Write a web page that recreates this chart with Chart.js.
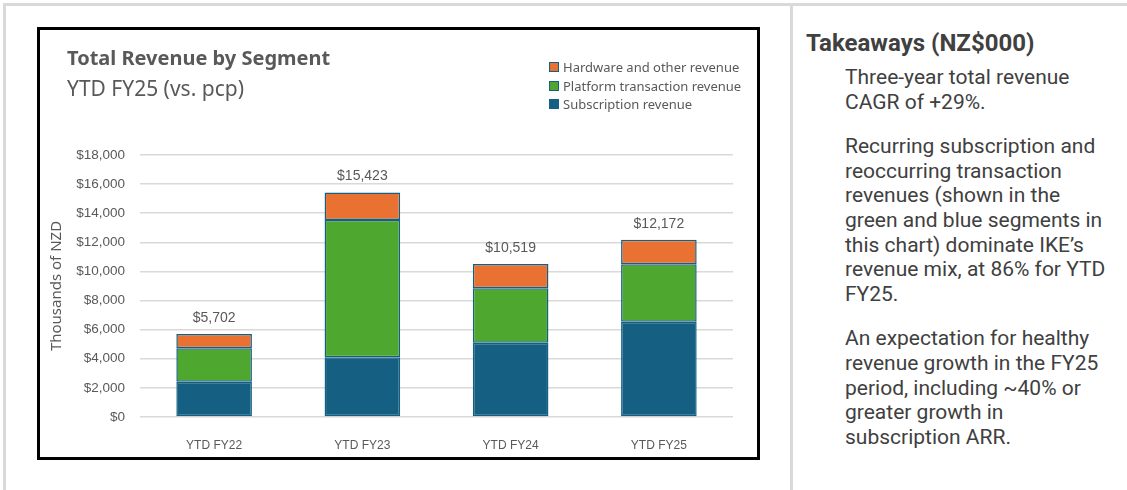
<!DOCTYPE html>
<html>
<head>
<meta charset="utf-8">
<script src="https://cdn.jsdelivr.net/npm/chart.js@4.4.1/dist/chart.umd.min.js"></script>
<style>
  html, body { margin: 0; padding: 0; background: #fff; }
  body { width: 1127px; height: 490px; position: relative; overflow: hidden; }
  .frame-top { position: absolute; left: 3px; top: 3px; width: 1124px; height: 3px; background: #d9d9d9; }
  .frame-left { position: absolute; left: 3px; top: 3px; width: 3px; height: 487px; background: #d9d9d9; }
  .frame-mid { position: absolute; left: 790px; top: 3px; width: 3px; height: 487px; background: #d9d9d9; }
  .chart-box { position: absolute; left: 37px; top: 27px; width: 717px; height: 427px; border: 3px solid #000; }
  .chart-box canvas { position: absolute; left: 0; top: 0; }
  .chart-title { position: absolute; left: 27px; top: 14px; font: bold 20px "Noto Sans", sans-serif; color: #595959; white-space: nowrap; }
  .chart-subtitle { position: absolute; left: 27px; top: 44px; font: 21px "Noto Sans", sans-serif; color: #595959; white-space: nowrap; }
  .legend { position: absolute; left: 509px; top: 28px; font: 13px "Noto Sans", sans-serif; color: #595959; }
  .legend div { height: 18.5px; line-height: 18.5px; white-space: nowrap; }
  .legend span { display: inline-block; width: 8px; height: 8px; margin-right: 4px; border: 1px solid #156082; }
  .side { position: absolute; left: 806px; top: 28px; width: 315px; font-family: Roboto, sans-serif; color: #404040; }
  .side h3 { margin: 0 0 7px 0; font-size: 24px; font-weight: bold; line-height: 30px; white-space: nowrap; }
  .side p { margin: 0 0 20px 39px; font-size: 21px; line-height: 24.6px; white-space: nowrap; }
</style>
</head>
<body>
<div class="frame-top"></div>
<div class="frame-left"></div>
<div class="frame-mid"></div>

<div class="chart-box">
  <canvas id="revenueChart" width="717" height="427"></canvas>
  <div class="chart-title">Total Revenue by Segment</div>
  <div class="chart-subtitle">YTD FY25 (vs. pcp)</div>
  <div class="legend" id="legend"></div>
</div>

<div class="side">
  <h3>Takeaways (NZ$000)</h3>
  <p>Three-year total revenue<br>CAGR of +29%.</p>
  <p>Recurring subscription and<br>reoccurring transaction<br>revenues (shown in the<br>green and blue segments in<br>this chart) dominate IKE’s<br>revenue mix, at 86% for YTD<br>FY25.</p>
  <p>An expectation for healthy<br>revenue growth in the FY25<br>period, including ~40% or<br>greater growth in<br>subscription ARR.</p>
</div>

<script>
const periods = ['YTD FY22', 'YTD FY23', 'YTD FY24', 'YTD FY25'];
const subscription = [2425, 4100, 5100, 6550];
const platform = [2295, 9434, 3740, 3940];
const hardware = [982, 1889, 1679, 1682];
const totals = [5702, 15423, 10519, 12172];
const yTicks = [0, 2000, 4000, 6000, 8000, 10000, 12000, 14000, 16000, 18000];

const seriesNames = ['Subscription revenue', 'Platform transaction revenue', 'Hardware and other revenue'];
const seriesColors = ['#156082', '#4ea72e', '#e97132'];
const textColor = '#595959';

function money(v) {
    return '$' + v.toLocaleString('en-US');
}

// totals written above each stack
const totalLabels = {
    id: 'totalLabels',
    afterDatasetsDraw(chart) {
        const ctx = chart.ctx;
        const meta = chart.getDatasetMeta(chart.data.datasets.length - 1);
        ctx.save();
        ctx.font = '14px "Liberation Sans", Arial, sans-serif';
        ctx.fillStyle = textColor;
        ctx.textAlign = 'center';
        ctx.textBaseline = 'bottom';
        meta.data.forEach((bar, i) => {
            const y = chart.scales.y.getPixelForValue(totals[i]);
            ctx.fillText(money(totals[i]), bar.x, y - 9);
        });
        ctx.restore();
    }
};

const datasets = [subscription, platform, hardware].map((values, i) => ({
    label: seriesNames[i],
    data: values,
    backgroundColor: seriesColors[i],
    borderColor: '#156082',
    borderWidth: 1.5,
    borderSkipped: false,
    categoryPercentage: 1,
    barPercentage: 0.51
}));

const ctx = document.getElementById('revenueChart').getContext('2d');
const revenueChart = new Chart(ctx, {
    type: 'bar',
    data: { labels: periods, datasets: datasets },
    options: {
        responsive: false,
        animation: false,
        layout: { padding: { top: 125, right: 24, left: 0, bottom: 0 } },
        plugins: {
            legend: { display: false },
            tooltip: { enabled: false }
        },
        scales: {
            x: {
                stacked: true,
                grid: { display: false },
                border: { display: false },
                ticks: {
                    color: textColor,
                    padding: 13,
                    font: { family: '"Liberation Sans", Arial, sans-serif', size: 12 }
                },
                afterFit(scale) { scale.height = 40; }
            },
            y: {
                stacked: true,
                min: 0,
                max: 18000,
                afterBuildTicks(scale) {
                    scale.ticks = yTicks.map(v => ({ value: v }));
                },
                grid: { color: '#d9d9d9', lineWidth: 1.5, drawTicks: false },
                border: { display: false },
                ticks: {
                    color: textColor,
                    padding: 15,
                    font: { family: '"Liberation Sans", Arial, sans-serif', size: 13.5 },
                    callback: v => money(v)
                },
                title: {
                    display: true,
                    text: 'Thousands of NZD',
                    color: textColor,
                    padding: { top: 8, bottom: 0 },
                    font: { family: '"Noto Sans", sans-serif', size: 15 }
                },
                afterFit(scale) { scale.width = 100; }
            }
        }
    },
    plugins: [totalLabels]
});

// legend, top entry is the top segment
const legend = document.getElementById('legend');
for (let i = seriesNames.length - 1; i >= 0; i--) {
    const row = document.createElement('div');
    row.innerHTML = `<span style="background:${seriesColors[i]}"></span>${seriesNames[i]}`;
    legend.appendChild(row);
}
</script>
</body>
</html>
